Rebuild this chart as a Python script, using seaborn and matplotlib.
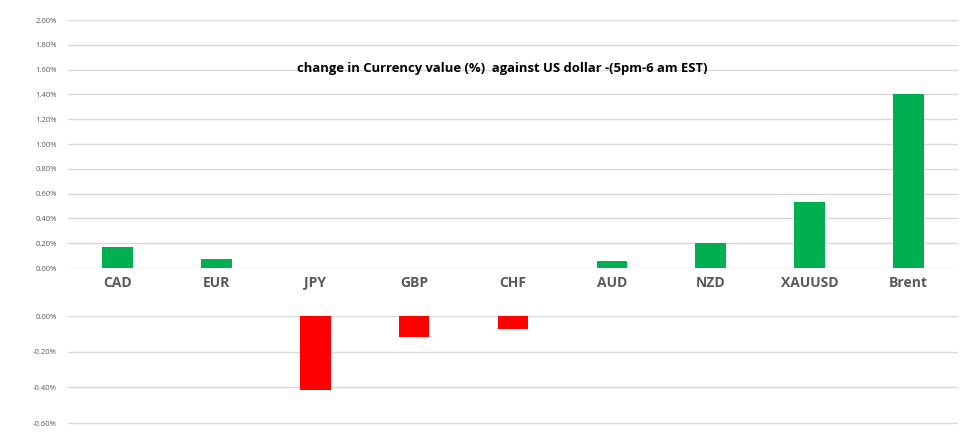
import matplotlib
matplotlib.use("Agg")
import pandas as pd
import matplotlib.pyplot as plt
import seaborn as sns
from matplotlib.ticker import FuncFormatter, MultipleLocator

# Data (percent change vs US dollar)
currencies = ['CAD', 'EUR', 'JPY', 'GBP', 'CHF', 'AUD', 'NZD', 'XAUUSD', 'Brent']
changes = [0.17, 0.073, -0.415, -0.118, -0.073, 0.056, 0.20, 0.53, 1.40]

df = pd.DataFrame({'currency': currencies, 'change': changes})
df['pos'] = df['change'].clip(lower=0)
df['neg'] = df['change'].clip(upper=0)

sns.set_style("white")
plt.rcParams['font.family'] = ['Open Sans', 'DejaVu Sans']

fig = plt.figure(figsize=(9.69, 4.40), dpi=100)
ax_top = fig.add_axes([0.0702, 0.3909, 0.9185, 0.5636])
ax_bot = fig.add_axes([0.0702, 0.0340, 0.9185, 0.2478])

grid_color = '#d9d9d9'
label_color = '#595959'
pct = FuncFormatter(lambda v, _: f"{v:.2f}%")

# -----------------------------
# Top panel: gains
# -----------------------------
sns.barplot(data=df, x='currency', y='pos', color='#00b050', width=0.31,
            ax=ax_top, saturation=1, linewidth=0)
ax_top.set_ylim(0, 2.0)
ax_top.yaxis.set_major_locator(MultipleLocator(0.2))
ax_top.yaxis.set_major_formatter(pct)
ax_top.set_xlim(-0.5, 8.5)
ax_top.text(0.488, 0.805, 'change in Currency value (%)  against US dollar -(5pm-6 am EST)',
            transform=ax_top.transAxes, ha='center', va='center',
            fontsize=9.4, fontweight='bold', color='black')

# -----------------------------
# Bottom panel: losses
# -----------------------------
sns.barplot(data=df, x='currency', y='neg', color='#ff0000', width=0.31,
            ax=ax_bot, saturation=1, linewidth=0)
ax_bot.set_ylim(-0.611, 0)
ax_bot.yaxis.set_major_locator(MultipleLocator(0.2))
ax_bot.yaxis.set_major_formatter(pct)
ax_bot.set_xlim(-0.5, 8.5)
ax_bot.set_xticks([])

for ax in (ax_top, ax_bot):
    ax.set_xlabel('')
    ax.set_ylabel('')
    for s in ax.spines.values():
        s.set_visible(False)
    ax.grid(axis='y', color=grid_color, linewidth=1)
    ax.set_axisbelow(True)
    ax.tick_params(axis='y', labelsize=5.5, labelcolor=label_color, length=0, pad=8)

ax_top.tick_params(axis='x', labelsize=10, labelcolor=label_color, length=0, pad=6)
for t in ax_top.get_xticklabels():
    t.set_fontweight('bold')

plt.savefig("out.png", dpi=100)
plt.close()
